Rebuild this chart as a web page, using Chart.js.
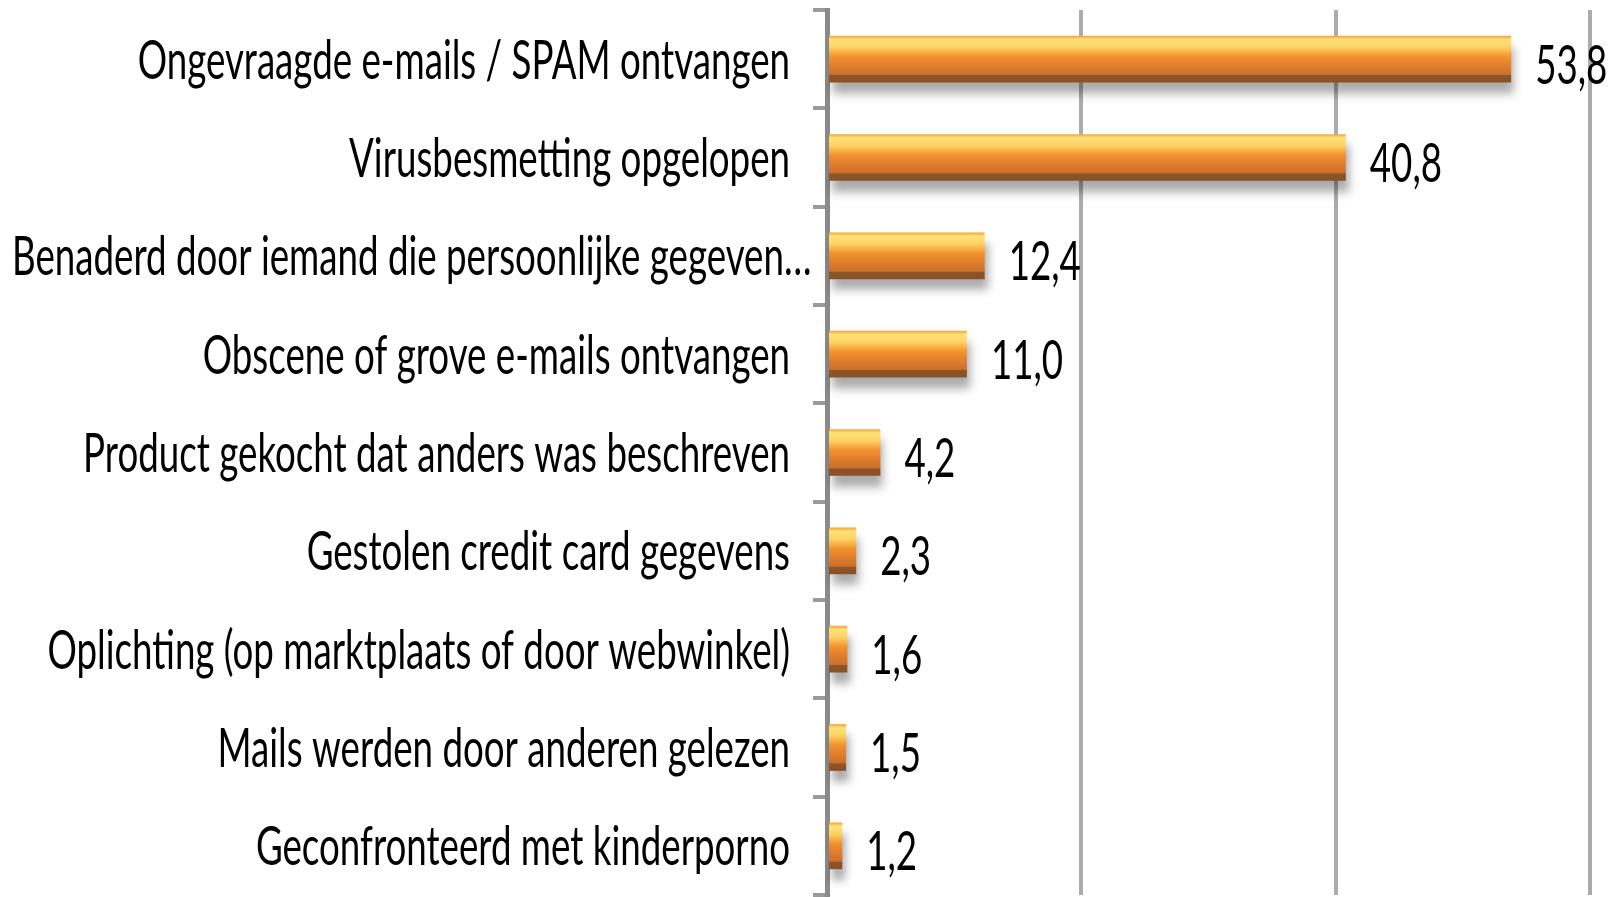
<!DOCTYPE html>
<html>
<head>
<meta charset="utf-8">
<script src="https://cdn.jsdelivr.net/npm/chart.js@4.4.1/dist/chart.umd.min.js"></script>
<style>
  html, body { margin: 0; padding: 0; background: #fff; }
  #wrap { width: 1619px; height: 897px; }
</style>
</head>
<body>
<div id="wrap"><canvas id="bars"></canvas></div>
<script>
const categories = [
  'Ongevraagde e-mails / SPAM ontvangen',
  'Virusbesmetting opgelopen',
  'Benaderd door iemand die persoonlijke gegeven…',
  'Obscene of grove e-mails ontvangen',
  'Product gekocht dat anders was beschreven',
  'Gestolen credit card gegevens',
  'Oplichting (op marktplaats of door webwinkel)',
  'Mails werden door anderen gelezen',
  'Geconfronteerd met kinderporno',
]
const percentages = [53.8, 40.8, 12.4, 11.0, 4.2, 2.3, 1.6, 1.5, 1.2]
const xTicks = [0, 20, 40, 60]

const labelFont = "54px Lato, 'Open Sans', sans-serif"

// oranje balk met glans, van boven naar beneden
const barFill = (context) => {
  const chart = context.chart
  const yScale = chart.scales.y
  if (!yScale || context.dataIndex === undefined) return '#e07b28'
  const band = yScale.height / categories.length
  const thick = band * 0.475
  const c = yScale.getPixelForValue(context.dataIndex)
  if (!Number.isFinite(c) || !Number.isFinite(thick) || thick <= 0) return '#e07b28'
  const g = chart.ctx.createLinearGradient(0, c - thick / 2, 0, c + thick / 2)
  g.addColorStop(0, '#f7a030')
  g.addColorStop(0.08, '#ffe27a')
  g.addColorStop(0.25, '#ffd162')
  g.addColorStop(0.45, '#f2922f')
  g.addColorStop(0.68, '#dc7a2b')
  g.addColorStop(0.83, '#c96f2d')
  g.addColorStop(0.85, '#8e5527')
  g.addColorStop(1, '#87512a')
  return g
}

// grijze schaduw onder de balken (geen border, anders clipt Chart.js de schaduw weg)
const barShadow = {
  id: 'barShadow',
  beforeDatasetsDraw(chart) {
    const ctx = chart.ctx
    ctx.save()
    ctx.shadowColor = 'rgba(0, 0, 0, 0.33)'
    ctx.shadowBlur = 9
    ctx.shadowOffsetX = 3
    ctx.shadowOffsetY = 11
  },
  afterDatasetsDraw(chart) {
    chart.ctx.restore()
  },
}

// smalle letters zoals in het origineel
const textSqueeze = (ctx) => {
  ctx.font = labelFont
  return 441 / ctx.measureText('Virusbesmetting opgelopen').width
}

const textLabels = {
  id: 'textLabels',
  afterDraw(chart) {
    const ctx = chart.ctx
    const yScale = chart.scales.y
    const meta = chart.getDatasetMeta(0)
    ctx.save()
    const sx = textSqueeze(ctx)
    ctx.fillStyle = '#000'
    ctx.textBaseline = 'alphabetic'
    const labelRight = chart.chartArea.left - 37
    categories.forEach((txt, i) => {
      const yc = yScale.getPixelForValue(i)
      const w = ctx.measureText(txt).width * sx
      const right = Math.max(labelRight, 12 + w)
      ctx.save()
      ctx.translate(right, yc + 19.5)
      ctx.scale(sx, 1)
      ctx.textAlign = 'right'
      ctx.fillText(txt, 0, 0)
      ctx.restore()
    })
    meta.data.forEach((bar, i) => {
      const txt = percentages[i].toFixed(1).replace('.', ',')
      const yc = yScale.getPixelForValue(i)
      ctx.save()
      ctx.translate(bar.x + 24, yc + 24.5)
      ctx.scale(sx, 1)
      ctx.textAlign = 'left'
      ctx.fillText(txt, 0, 0)
      ctx.restore()
    })
    ctx.restore()
  },
}

new Chart(document.getElementById('bars'), {
  type: 'bar',
  data: {
    labels: categories,
    datasets: [
      {
        data: percentages,
        backgroundColor: barFill,
        borderWidth: 0,
        barPercentage: 0.475,
        categoryPercentage: 1,
        clip: false,
      },
    ],
  },
  options: {
    indexAxis: 'y',
    responsive: true,
    maintainAspectRatio: false,
    animation: false,
    layout: { padding: { top: 10, right: 29, bottom: 2, left: 0 } },
    plugins: {
      legend: { display: false },
      tooltip: { enabled: false },
    },
    scales: {
      x: {
        min: 0,
        max: 60,
        afterBuildTicks: (scale) => {
          scale.ticks = xTicks.map(v => ({ value: v }))
        },
        afterFit: (scale) => {
          scale.height = 0
          scale.paddingLeft = 0
          scale.paddingRight = 0
        },
        ticks: { display: false },
        grid: { color: '#ababab', lineWidth: 4, drawTicks: false },
        border: { display: false },
      },
      y: {
        afterFit: (scale) => {
          scale.width = 827
          scale.paddingTop = 0
          scale.paddingBottom = 0
        },
        ticks: { display: false },
        grid: {
          drawOnChartArea: false,
          offset: true,
          color: '#9a9a9a',
          lineWidth: 4,
          tickLength: 14,
        },
        border: { color: '#8a8a8a', width: 5 },
      },
    },
  },
  plugins: [barShadow, textLabels],
})
</script>
</body>
</html>
